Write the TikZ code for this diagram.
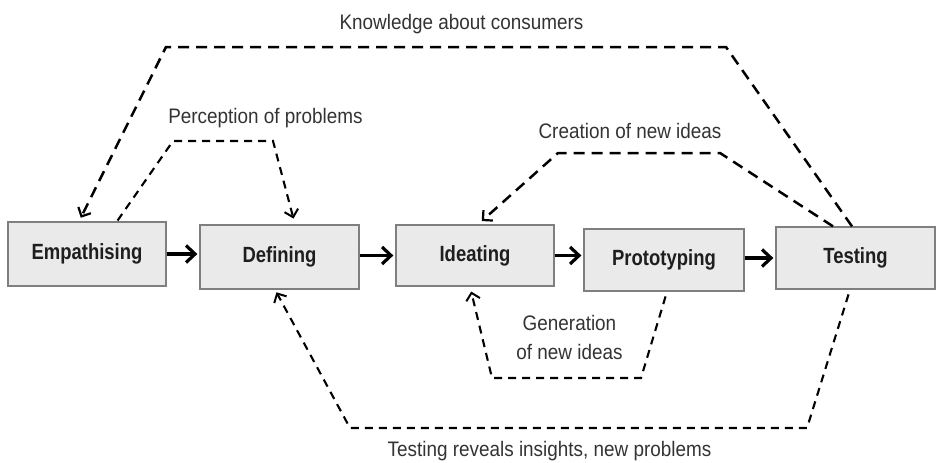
\documentclass[tikz,border=0pt]{standalone}
\usepackage{fontspec}
\setmainfont{Liberation Sans}[FakeStretch=0.9]
\newfontfamily\boxfont{Liberation Sans Bold}[FakeStretch=0.84]
\usetikzlibrary{arrows.meta}
\definecolor{boxfill}{HTML}{EAEAEA}
\definecolor{boxline}{HTML}{7F7F7F}
\definecolor{ink}{HTML}{1E1E1E}
\definecolor{labelink}{HTML}{333333}
\begin{document}
\begin{tikzpicture}[x=1pt,y=-1pt,
  stage/.style={draw=boxline, fill=boxfill, line width=1.3pt, inner sep=0pt,
    text=ink, font=\boxfont\fontsize{22}{26}\selectfont},
  flow/.style={line width=3.8pt, -{Straight Barb[length=9pt,width=17pt,line width=3.2pt]}, shorten >=2pt},
  loopA/.style={line width=2.5pt, dash pattern=on 11pt off 7pt, -{Straight Barb[length=7pt,width=14pt,line width=2.2pt]}},
  loopB/.style={line width=2.1pt, dash pattern=on 8pt off 6pt, -{Straight Barb[length=7pt,width=14pt,line width=2pt]}},
  note/.style={text=labelink, font=\fontsize{21}{29}\selectfont, inner sep=0pt}]
\useasboundingbox (0,0) rectangle (940,463);

% the five stages
\node[stage, minimum width=158pt, minimum height=64pt] (emp) at (87,254) {Empathising};
\node[stage, minimum width=159pt, minimum height=64pt] (def) at (279.5,257) {Defining};
\node[stage, minimum width=158pt, minimum height=61pt] (ide) at (475,255.5) {Ideating};
\node[stage, minimum width=160pt, minimum height=62pt] (pro) at (664,260) {Prototyping\hspace{20pt}};
\node[stage, minimum width=159pt, minimum height=62pt] (tes) at (855.5,258) {Testing};

% main sequence
\draw[flow] (emp.east) -- (emp.east -| def.west);
\draw[flow] (def.east |- ide.west) -- (ide.west);
\draw[flow] (ide.east) -- (ide.east -| pro.west);
\draw[flow] (pro.east |- tes.west) -- (tes.west);

% bends of the feedback loops
\coordinate (k1) at (726,47);
\coordinate (k2) at (166,47);
\coordinate (c1) at (720,153);
\coordinate (c2) at (558,153);
\coordinate (p1) at (173,141);
\coordinate (p2) at (273,141);
\coordinate (g1) at (641,378);
\coordinate (g2) at (492,378);
\coordinate (t1) at (807,428);
\coordinate (t2) at (350,428);

% feedback loops
\draw[loopA, shorten >=4pt] ([xshift=-3.5pt]tes.north) -- (k1) -- (k2) -- ([xshift=-8pt]emp.north);
\draw[loopA, shorten >=5pt] ([xshift=-22.5pt]tes.north) -- (c1) -- (c2) -- ([xshift=3pt]ide.north);
\draw[loopB, shorten <=1pt, shorten >=6pt] ([xshift=30pt]emp.north) -- (p1) -- (p2) -- ([xshift=15.5pt]def.north);
\draw[loopB, shorten <=5pt, shorten >=5pt] ([xshift=3pt]pro.south) -- (g1) -- (g2) -- ([xshift=-5pt]ide.south);
\draw[loopB, shorten <=5pt, shorten >=3pt] ([xshift=-5.5pt]tes.south) -- (t1) -- (t2) -- ([xshift=-4.5pt]def.south);

% loop labels
\node[note, anchor=base] (lk) at (461.5,29) {Knowledge about consumers};
\node[note, anchor=base] (lp) at (265.5,123) {Perception of problems};
\node[note, anchor=base] (lc) at (630,138) {Creation of new ideas};
\node[note, anchor=base] (lg1) at (569.5,330) {Generation};
\node[note, anchor=base] (lg2) at (569.5,359) {of new ideas};
\node[note, anchor=base] (lt) at (549.5,456) {Testing reveals insights, new problems};
\end{tikzpicture}
\end{document}
